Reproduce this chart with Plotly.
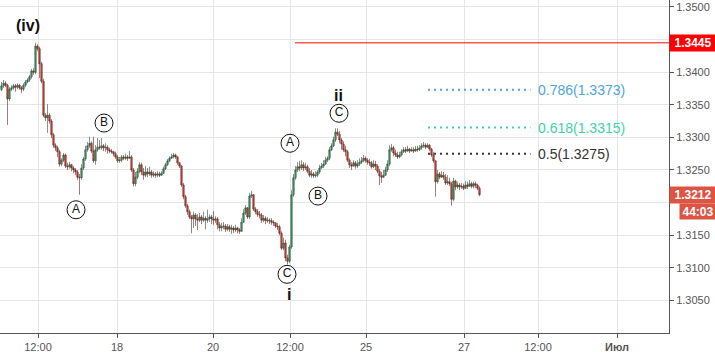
import plotly.graph_objects as go

# ---------------- data (hourly candles, index based x-axis) ----------------
first_open = 1.3373
closes = [
    1.3379, 1.3383, 1.3380, 1.3359, 1.3374, 1.3376, 1.3379, 1.3377, 1.3380, 1.3376,
    1.3374, 1.3380, 1.3385, 1.3388, 1.3393, 1.3402, 1.3400, 1.3440, 1.3436, 1.3413,
    1.3386, 1.3334, 1.3330, 1.3334, 1.3325, 1.3304, 1.3288, 1.3284, 1.3278, 1.3259,
    1.3265, 1.3273, 1.3256, 1.3255, 1.3258, 1.3253, 1.3250, 1.3247, 1.3239, 1.3238,
    1.3253, 1.3267, 1.3281, 1.3287, 1.3291, 1.3279, 1.3264, 1.3281, 1.3285, 1.3284,
    1.3287, 1.3284, 1.3285, 1.3281, 1.3279, 1.3278, 1.3275, 1.3270, 1.3264, 1.3265,
    1.3270, 1.3268, 1.3270, 1.3268, 1.3270, 1.3250, 1.3229, 1.3239, 1.3248, 1.3258,
    1.3247, 1.3242, 1.3247, 1.3244, 1.3247, 1.3242, 1.3244, 1.3242, 1.3244, 1.3242,
    1.3245, 1.3252, 1.3258, 1.3264, 1.3268, 1.3270, 1.3273, 1.3270, 1.3261, 1.3256,
    1.3227, 1.3209, 1.3195, 1.3186, 1.3178, 1.3175, 1.3181, 1.3175, 1.3173, 1.3178,
    1.3173, 1.3176, 1.3173, 1.3175, 1.3178, 1.3175, 1.3173, 1.3175, 1.3166, 1.3161,
    1.3163, 1.3164, 1.3159, 1.3163, 1.3159, 1.3161, 1.3158, 1.3161, 1.3158, 1.3156,
    1.3170, 1.3184, 1.3192, 1.3178, 1.3210, 1.3212, 1.3190, 1.3186, 1.3182, 1.3181,
    1.3173, 1.3176, 1.3172, 1.3173, 1.3172, 1.3170, 1.3169, 1.3164, 1.3163, 1.3153,
    1.3130, 1.3138, 1.3115, 1.3110, 1.3132, 1.3212, 1.3238, 1.3250, 1.3255, 1.3253,
    1.3258, 1.3253, 1.3255, 1.3248, 1.3242, 1.3244, 1.3241, 1.3242, 1.3247, 1.3253,
    1.3256, 1.3259, 1.3265, 1.3268, 1.3281, 1.3287, 1.3296, 1.3308, 1.3305, 1.3296,
    1.3290, 1.3281, 1.3278, 1.3265, 1.3258, 1.3256, 1.3261, 1.3256, 1.3259, 1.3262,
    1.3264, 1.3268, 1.3265, 1.3262, 1.3261, 1.3255, 1.3259, 1.3256, 1.3248, 1.3241,
    1.3239, 1.3242, 1.3250, 1.3259, 1.3281, 1.3284, 1.3276, 1.3273, 1.3270, 1.3273,
    1.3278, 1.3281, 1.3279, 1.3282, 1.3279, 1.3281, 1.3279, 1.3282, 1.3281, 1.3284,
    1.3287, 1.3288, 1.3285, 1.3288, 1.3282, 1.3273, 1.3264, 1.3232, 1.3244, 1.3239,
    1.3242, 1.3239, 1.3230, 1.3232, 1.3229, 1.3205, 1.3233, 1.3224, 1.3227, 1.3224,
    1.3225, 1.3222, 1.3227, 1.3225, 1.3229, 1.3225, 1.3229, 1.3227, 1.3222, 1.3212,
]
highs = [
    1.3385, 1.3388, 1.3386, 1.3382, 1.3377, 1.3380, 1.3382, 1.3382, 1.3383, 1.3382,
    1.3379, 1.3383, 1.3388, 1.3391, 1.3396, 1.3405, 1.3406, 1.3445, 1.3443, 1.3439,
    1.3416, 1.3390, 1.3337, 1.3351, 1.3337, 1.3328, 1.3307, 1.3291, 1.3287, 1.3281,
    1.3268, 1.3276, 1.3275, 1.3261, 1.3262, 1.3259, 1.3256, 1.3253, 1.3250, 1.3244,
    1.3259, 1.3270, 1.3287, 1.3293, 1.3301, 1.3294, 1.3301, 1.3288, 1.3299, 1.3296,
    1.3299, 1.3290, 1.3291, 1.3288, 1.3284, 1.3282, 1.3279, 1.3278, 1.3273, 1.3270,
    1.3273, 1.3273, 1.3275, 1.3273, 1.3279, 1.3273, 1.3253, 1.3247, 1.3253, 1.3262,
    1.3261, 1.3253, 1.3256, 1.3253, 1.3255, 1.3250, 1.3248, 1.3247, 1.3248, 1.3247,
    1.3248, 1.3255, 1.3261, 1.3267, 1.3271, 1.3275, 1.3276, 1.3275, 1.3271, 1.3262,
    1.3258, 1.3230, 1.3212, 1.3198, 1.3189, 1.3181, 1.3186, 1.3184, 1.3182, 1.3184,
    1.3181, 1.3186, 1.3179, 1.3189, 1.3182, 1.3181, 1.3187, 1.3179, 1.3178, 1.3170,
    1.3169, 1.3170, 1.3167, 1.3167, 1.3166, 1.3166, 1.3164, 1.3166, 1.3163, 1.3161,
    1.3176, 1.3190, 1.3196, 1.3193, 1.3215, 1.3218, 1.3213, 1.3193, 1.3190, 1.3187,
    1.3184, 1.3181, 1.3179, 1.3178, 1.3176, 1.3176, 1.3173, 1.3170, 1.3169, 1.3166,
    1.3156, 1.3146, 1.3143, 1.3120, 1.3135, 1.3219, 1.3244, 1.3256, 1.3262, 1.3264,
    1.3265, 1.3262, 1.3261, 1.3258, 1.3253, 1.3250, 1.3247, 1.3248, 1.3250, 1.3258,
    1.3261, 1.3265, 1.3270, 1.3271, 1.3285, 1.3291, 1.3301, 1.3314, 1.3314, 1.3310,
    1.3299, 1.3294, 1.3287, 1.3281, 1.3268, 1.3262, 1.3265, 1.3264, 1.3265, 1.3268,
    1.3270, 1.3273, 1.3271, 1.3268, 1.3267, 1.3264, 1.3265, 1.3264, 1.3259, 1.3252,
    1.3247, 1.3250, 1.3255, 1.3265, 1.3288, 1.3290, 1.3287, 1.3281, 1.3278, 1.3278,
    1.3282, 1.3285, 1.3285, 1.3287, 1.3284, 1.3285, 1.3285, 1.3287, 1.3287, 1.3288,
    1.3291, 1.3293, 1.3291, 1.3291, 1.3290, 1.3284, 1.3278, 1.3265, 1.3250, 1.3247,
    1.3248, 1.3247, 1.3244, 1.3242, 1.3238, 1.3232, 1.3238, 1.3235, 1.3232, 1.3230,
    1.3230, 1.3229, 1.3233, 1.3232, 1.3235, 1.3232, 1.3232, 1.3232, 1.3229, 1.3225,
]
lows = [
    1.3371, 1.3376, 1.3377, 1.3319, 1.3356, 1.3371, 1.3373, 1.3370, 1.3374, 1.3373,
    1.3368, 1.3371, 1.3377, 1.3383, 1.3385, 1.3390, 1.3396, 1.3397, 1.3432, 1.3391,
    1.3383, 1.3331, 1.3325, 1.3307, 1.3321, 1.3299, 1.3284, 1.3279, 1.3270, 1.3255,
    1.3256, 1.3262, 1.3253, 1.3250, 1.3252, 1.3248, 1.3245, 1.3242, 1.3235, 1.3212,
    1.3235, 1.3250, 1.3264, 1.3278, 1.3284, 1.3276, 1.3261, 1.3258, 1.3278, 1.3281,
    1.3281, 1.3279, 1.3278, 1.3275, 1.3276, 1.3275, 1.3271, 1.3267, 1.3261, 1.3261,
    1.3262, 1.3265, 1.3265, 1.3264, 1.3267, 1.3247, 1.3225, 1.3225, 1.3236, 1.3245,
    1.3242, 1.3235, 1.3239, 1.3239, 1.3241, 1.3238, 1.3239, 1.3238, 1.3239, 1.3239,
    1.3241, 1.3244, 1.3250, 1.3256, 1.3262, 1.3267, 1.3268, 1.3267, 1.3258, 1.3253,
    1.3224, 1.3205, 1.3192, 1.3181, 1.3175, 1.3153, 1.3161, 1.3164, 1.3158, 1.3170,
    1.3167, 1.3170, 1.3159, 1.3169, 1.3170, 1.3167, 1.3166, 1.3169, 1.3159, 1.3156,
    1.3156, 1.3159, 1.3155, 1.3156, 1.3155, 1.3152, 1.3153, 1.3155, 1.3153, 1.3152,
    1.3155, 1.3169, 1.3181, 1.3175, 1.3175, 1.3207, 1.3187, 1.3182, 1.3178, 1.3176,
    1.3169, 1.3170, 1.3167, 1.3169, 1.3167, 1.3166, 1.3164, 1.3161, 1.3158, 1.3150,
    1.3127, 1.3127, 1.3110, 1.3105, 1.3107, 1.3129, 1.3209, 1.3235, 1.3247, 1.3248,
    1.3250, 1.3248, 1.3250, 1.3245, 1.3239, 1.3238, 1.3238, 1.3238, 1.3239, 1.3244,
    1.3252, 1.3253, 1.3258, 1.3262, 1.3265, 1.3279, 1.3285, 1.3293, 1.3302, 1.3291,
    1.3281, 1.3278, 1.3271, 1.3262, 1.3253, 1.3250, 1.3255, 1.3252, 1.3253, 1.3256,
    1.3259, 1.3262, 1.3261, 1.3258, 1.3256, 1.3252, 1.3253, 1.3250, 1.3245, 1.3227,
    1.3230, 1.3238, 1.3241, 1.3247, 1.3256, 1.3278, 1.3271, 1.3270, 1.3267, 1.3268,
    1.3271, 1.3276, 1.3276, 1.3278, 1.3276, 1.3278, 1.3276, 1.3278, 1.3278, 1.3279,
    1.3281, 1.3284, 1.3282, 1.3284, 1.3279, 1.3270, 1.3261, 1.3209, 1.3229, 1.3236,
    1.3238, 1.3235, 1.3227, 1.3227, 1.3225, 1.3195, 1.3202, 1.3219, 1.3221, 1.3219,
    1.3221, 1.3219, 1.3221, 1.3221, 1.3224, 1.3222, 1.3222, 1.3222, 1.3219, 1.3210,
]
opens = [first_open] + closes[:-1]
candle_x = list(range(len(closes)))

x_tick_pos = [18.25, 57.75, 105.75, 144.25, 182.25, 231.25, 268.25, 307.75]
x_tick_text = ["12:00", "18", "20", "12:00", "25", "27", "12:00", "<b>Июл</b>"]
y_tick_vals = [1.3050, 1.3100, 1.3150, 1.3200, 1.3250, 1.3300, 1.3350, 1.3400, 1.3450, 1.3500]
# labels hidden behind the price boxes on the scale
y_tick_text = ["1.3050", "1.3100", "1.3150", "", "1.3250", "1.3300", "1.3350", "1.3400", "", "1.3500"]
x_range = [-0.75, 333.75]
y_range = [1.3000, 1.35107]

fib_ratios = ["0.786", "0.618", "0.5"]
fib_prices = [1.3373, 1.3315, 1.3275]
fib_colors = ["#4ea4dd", "#3dd3a3", "#333333"]
fib_x = [213.25, 264.5]
fib_label_x = 267.4

level_price = 1.3445
level_x = [146.75, 333.75]
last_price = 1.3212
countdown = "44:03"

circle_x = [37.25, 51.25, 144.25, 158.25, 168.75, 142.75]
circle_y = [1.3189, 1.3322, 1.3291, 1.3210, 1.3337, 1.3090]
circle_text = ["A", "B", "A", "B", "C", "C"]

wave_x = [13.25, 168.25, 143.75]
wave_y = [1.3472, 1.3365, 1.3059]
wave_text = ["(iv)", "ii", "i"]

FONT = "Liberation Sans, Arial, sans-serif"

fig = go.Figure()
fig.add_trace(go.Candlestick(
    x=candle_x, open=opens, high=highs, low=lows, close=closes,
    increasing=dict(fillcolor="#42a06c", line=dict(color="#2e4d3a", width=0.6)),
    decreasing=dict(fillcolor="#e4432f", line=dict(color="#5a2620", width=0.6)),
    hoverinfo="skip", showlegend=False,
))

for r, p, c in zip(fib_ratios, fib_prices, fib_colors):
    fig.add_trace(go.Scatter(
        x=fib_x, y=[p, p], mode="lines",
        line=dict(color=c, width=2, dash="2px,4px"),
        hoverinfo="skip", showlegend=False,
    ))
    fig.add_annotation(x=fib_label_x, y=p, xref="x", yref="y", text=f"{r}({p:.4f})",
                       showarrow=False, xanchor="left", yanchor="middle",
                       font=dict(family=FONT, size=14, color=c))

fig.add_trace(go.Scatter(
    x=level_x, y=[level_price, level_price], mode="lines",
    line=dict(color="#ff0000", width=1), hoverinfo="skip", showlegend=False,
))

fig.add_trace(go.Scatter(
    x=circle_x, y=circle_y, mode="markers+text", text=circle_text,
    textposition="middle center",
    textfont=dict(family=FONT, size=12, color="#111111"),
    marker=dict(symbol="circle", size=18, color="white",
                line=dict(color="#111111", width=1)),
    hoverinfo="skip", showlegend=False, cliponaxis=False,
))

for tx, ty, tt in zip(wave_x, wave_y, wave_text):
    fig.add_annotation(x=tx, y=ty, xref="x", yref="y", text=f"<b>{tt}</b>",
                       showarrow=False, xanchor="center", yanchor="middle",
                       font=dict(family=FONT, size=16, color="#111111"))

# price labels on the right scale
fig.add_annotation(x=1, y=level_price, xref="paper", yref="y", text=f"<b>{level_price:.4f}</b>",
                   showarrow=False, xanchor="left", yanchor="middle", width=46, height=16,
                   bgcolor="#ff0000", borderpad=0, align="center",
                   font=dict(family=FONT, size=12, color="white"))
fig.add_annotation(x=1, y=last_price, xref="paper", yref="y", text=f"<b>{last_price:.4f}</b>",
                   showarrow=False, xanchor="left", yanchor="middle", width=46, height=16,
                   bgcolor="#dd5443", borderpad=0, align="center",
                   font=dict(family=FONT, size=12, color="white"))
fig.add_annotation(x=1, y=last_price, xref="paper", yref="y", text=f"<b>{countdown}</b>",
                   showarrow=False, xanchor="left", yanchor="middle", width=36, height=15,
                   xshift=10, yshift=-17,
                   bgcolor="#dd5443", borderpad=0, align="center",
                   font=dict(family=FONT, size=12, color="white"))

fig.update_layout(
    width=715, height=352,
    margin=dict(l=0, r=46, t=0, b=19),
    paper_bgcolor="white", plot_bgcolor="white",
    showlegend=False,
    boxgap=0.0,
    xaxis=dict(
        range=x_range, tickmode="array", tickvals=x_tick_pos, ticktext=x_tick_text,
        showgrid=True, gridcolor="#e6e6e6", gridwidth=1, zeroline=False,
        showline=True, linecolor="#555555", linewidth=1,
        ticks="outside", ticklen=4, tickcolor="#555555",
        tickfont=dict(family=FONT, size=11, color="#555555"),
        rangeslider=dict(visible=False), fixedrange=True,
    ),
    yaxis=dict(
        range=y_range, side="right", tickmode="array", tickvals=y_tick_vals,
        ticktext=y_tick_text,
        showgrid=True, gridcolor="#e6e6e6", gridwidth=1, zeroline=False,
        showline=True, linecolor="#555555", linewidth=1,
        ticks="outside", ticklen=4, tickcolor="#555555",
        tickfont=dict(family=FONT, size=11, color="#555555"),
        fixedrange=True,
    ),
)

fig.write_html("out.html")
